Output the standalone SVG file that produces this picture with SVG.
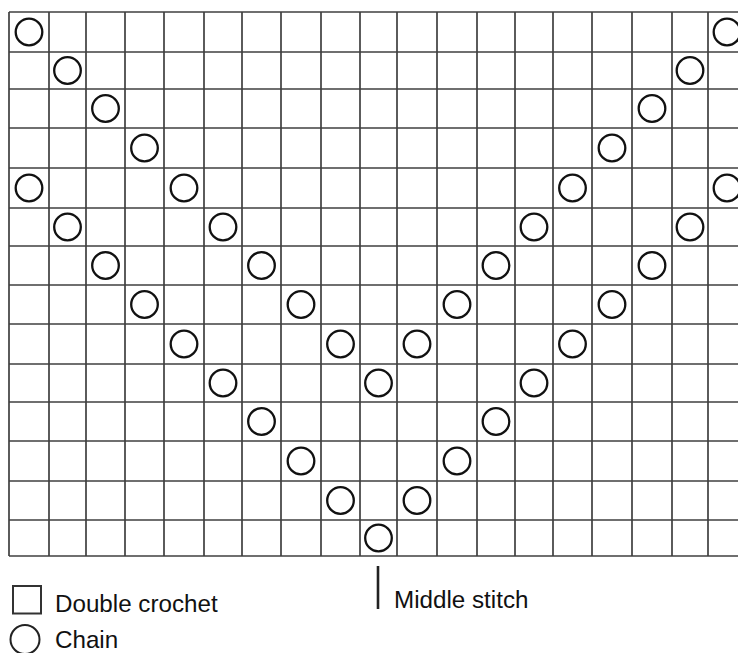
<svg xmlns="http://www.w3.org/2000/svg" xmlns:xlink="http://www.w3.org/1999/xlink" width="738" height="653" viewBox="0 0 738 653">
<style>
.g{stroke:#404040;stroke-width:1.7;fill:none}
.ch{fill:none;stroke:#111;stroke-width:2.3}
.t{font-family:"Liberation Sans",Arial,sans-serif;font-size:24.2px;fill:#111}
</style>
<defs>
<circle id="c" r="13.3" class="ch"/>
</defs>
<rect width="738" height="653" fill="#fff"/>
<g id="grid" class="g">
<path d="M9,12H738M9,52H738M9,89H738M9,128H738M9,168H738M9,208H738M9,246H738M9,285H738M9,324H738M9,364H738M9,402H738M9,441H738M9,481H738M9,520H738M9,556H738"/>
<path d="M9,12V556M49,12V556M86,12V556M125,12V556M164,12V556M204,12V556M242,12V556M281,12V556M321,12V556M360,12V556M397,12V556M437,12V556M477,12V556M515,12V556M553,12V556M592,12V556M632,12V556M672,12V556M708,12V556"/>
</g>
<g id="chains">
<use href="#c" x="29" y="32"/><use href="#c" x="727" y="32"/>
<use href="#c" x="67.5" y="70.5"/><use href="#c" x="690" y="70.5"/>
<use href="#c" x="105.5" y="108.5"/><use href="#c" x="652" y="108.5"/>
<use href="#c" x="144.5" y="148"/><use href="#c" x="612" y="148"/>
<use href="#c" x="29" y="188"/><use href="#c" x="184" y="188"/><use href="#c" x="572.5" y="188"/><use href="#c" x="727" y="188"/>
<use href="#c" x="67.5" y="227"/><use href="#c" x="223" y="227"/><use href="#c" x="534" y="227"/><use href="#c" x="690" y="227"/>
<use href="#c" x="105.5" y="265.5"/><use href="#c" x="261.5" y="265.5"/><use href="#c" x="496" y="265.5"/><use href="#c" x="652" y="265.5"/>
<use href="#c" x="144.5" y="304.5"/><use href="#c" x="301" y="304.5"/><use href="#c" x="457" y="304.5"/><use href="#c" x="612" y="304.5"/>
<use href="#c" x="184" y="344"/><use href="#c" x="340.5" y="344"/><use href="#c" x="417" y="344"/><use href="#c" x="572.5" y="344"/>
<use href="#c" x="223" y="383"/><use href="#c" x="378.5" y="383"/><use href="#c" x="534" y="383"/>
<use href="#c" x="261.5" y="421.5"/><use href="#c" x="496" y="421.5"/>
<use href="#c" x="301" y="461"/><use href="#c" x="457" y="461"/>
<use href="#c" x="340.5" y="500.5"/><use href="#c" x="417" y="500.5"/>
<use href="#c" x="378.5" y="538"/>
</g>
<g id="middle-stitch">
<line x1="378" y1="566" x2="378" y2="609" stroke="#222" stroke-width="2.6"/>
<text class="t" x="394" y="608">Middle stitch</text>
</g>
<g id="legend-dc">
<rect x="13" y="586" width="28" height="27.5" fill="none" stroke="#333" stroke-width="2"/>
<text class="t" x="55" y="611.5">Double crochet</text>
</g>
<g id="legend-chain">
<circle cx="25" cy="639.5" r="14.5" fill="none" stroke="#222" stroke-width="2"/>
<text class="t" x="55" y="647.5">Chain</text>
</g>
</svg>
